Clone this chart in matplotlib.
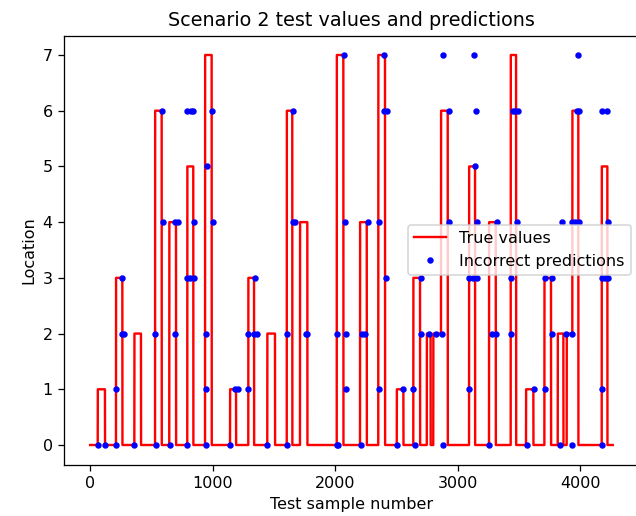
import matplotlib
matplotlib.use("Agg")
import matplotlib.pyplot as plt
import numpy as np

# true location: sample index where each level starts, and the level
seg_start = [0, 63, 122, 212, 264, 362, 416, 531, 585, 647, 702, 794, 843, 939, 993,
             1143, 1192, 1292, 1339, 1447, 1510, 1606, 1651, 1714, 1774, 2014, 2068,
             2204, 2259, 2353, 2408, 2504, 2558, 2639, 2694, 2749, 2780, 2802, 2865,
             2920, 3094, 3143, 3257, 3312, 3434, 3478, 3559, 3619, 3709, 3763, 3818,
             3864, 3891, 3937, 3986, 4177, 4223]
seg_level = [0, 1, 0, 3, 0, 2, 0, 6, 0, 4, 0, 5, 0, 7, 0,
             1, 0, 3, 0, 2, 0, 6, 0, 4, 0, 7, 0,
             4, 0, 7, 0, 1, 0, 3, 0, 2, 0, 2, 6,
             0, 5, 0, 4, 0, 7, 0, 1, 0, 3, 0, 2,
             0, 2, 6, 0, 5, 0]
n_samples = 4267

# wrong predictions (sample index, predicted location)
wrong_x = [63, 122, 212, 212, 264, 264, 280, 362, 531, 539, 590, 596, 653, 694, 694, 716,
           789, 820, 843, 789, 812, 849, 849, 794, 952, 947, 947, 947, 998, 1001,
           1143, 1184, 1206, 1287, 1292, 1347, 1339, 1366, 1447, 1611, 1606, 1660, 1660,
           1673, 1761, 1774, 2014, 2020, 2014, 2073, 2082, 2087, 2087, 2210, 2220, 2245,
           2267, 2359, 2362, 2402, 2400, 2420, 2416, 2509, 2558, 2639, 2653, 2700, 2700,
           2770, 2824, 2873, 2879, 2879, 2931, 2933, 3094, 3094, 3137, 3149, 3143, 3157,
           3125, 3155, 3257, 3280, 3310, 3320, 3434, 3434, 3455, 3470, 3490, 3488, 3565,
           3624, 3714, 3714, 3769, 3774, 3850, 3833, 3883, 3937, 3937, 3937, 3960, 3994,
           3975, 3994, 3981, 4177, 4223, 4180, 4205, 4230, 4177, 4177, 4231]
wrong_y = [0, 0, 0, 1, 3, 2, 2, 0, 2, 0, 6, 4, 0, 2, 4, 4,
           6, 6, 6, 3, 3, 3, 4, 0, 5, 2, 1, 0, 6, 4,
           0, 1, 1, 1, 2, 3, 2, 2, 0, 0, 2, 6, 4,
           4, 2, 2, 0, 0, 2, 7, 4, 2, 1, 0, 2, 2,
           4, 1, 4, 7, 6, 6, 3, 0, 1, 1, 0, 3, 2,
           2, 2, 2, 0, 7, 6, 4, 1, 3, 7, 6, 5, 4,
           3, 3, 0, 2, 2, 4, 3, 2, 6, 6, 6, 4, 0,
           1, 1, 3, 3, 2, 4, 0, 2, 2, 0, 4, 4, 4,
           6, 6, 7, 6, 6, 3, 3, 3, 1, 0, 4]

dpi = 115
fig = plt.figure(figsize=(636 / dpi, 516 / dpi), dpi=dpi)
ax = fig.add_axes([0.1006, 0.0998, 0.9039, 0.8314])

lengths = np.diff(seg_start + [n_samples])
y_true = np.repeat(seg_level, lengths)
ax.plot(np.arange(n_samples), y_true, "r", label="True values")
ax.plot(wrong_x, wrong_y, "b.", label="Incorrect predictions")

ax.set_title("Scenario 2 test values and predictions")
ax.set_xlabel("Test sample number")
ax.set_ylabel("Location")
ax.legend(loc="center right")

fig.savefig("out.png", dpi=dpi)
